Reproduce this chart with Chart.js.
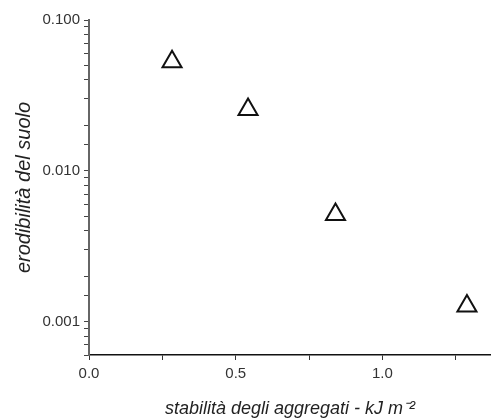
<!DOCTYPE html>
<html>
<head>
<meta charset="utf-8">
<script src="https://cdn.jsdelivr.net/npm/chart.js@4/dist/chart.umd.min.js"></script>
<style>
  html, body { margin: 0; padding: 0; background: #fff; }
  #box { width: 491px; height: 420px; }
</style>
</head>
<body>
<div id="box"><canvas id="grafica" width="491" height="420"></canvas></div>
<script>
// valori
const stabilita = [0.283, 0.542, 0.84, 1.288];
const erodibilita = [0.0529, 0.0255, 0.00513, 0.00127];
const xLabels = ['0.0', '0.5', '1.0'];
const yLabels = ['0.001', '0.010', '0.100'];

const isPow10 = v => Math.abs(Math.log10(v) - Math.round(Math.log10(v))) < 1e-6;

document.addEventListener('DOMContentLoaded', function () {
  const canvas = document.getElementById('grafica');
  if (!canvas || typeof Chart === 'undefined') {
    console.warn('Chart.js non caricato o canvas mancante');
    return;
  }
  const ctx = canvas.getContext('2d');
  const font = { family: '"Liberation Sans", Arial, sans-serif' };

  new Chart(ctx, {
    type: 'scatter',
    data: {
      datasets: [{
        data: stabilita.map((x, i) => ({ x: x, y: erodibilita[i] })),
        pointStyle: 'triangle',
        radius: 11,
        hoverRadius: 11,
        borderWidth: 2,
        borderColor: '#111',
        backgroundColor: 'rgba(255,255,255,0)'
      }]
    },
    options: {
      responsive: false,
      animation: false,
      events: [],
      layout: { autoPadding: false, padding: { top: 20, right: 0, left: 0, bottom: 0 } },
      plugins: { legend: { display: false }, tooltip: { enabled: false } },
      scales: {
        x: {
          type: 'linear',
          min: 0,
          max: 1.37,
          border: { color: '#111', width: 1.5 },
          grid: { drawOnChartArea: false, drawTicks: true, tickLength: 5, color: '#333', tickWidth: 1 },
          ticks: {
            stepSize: 0.25,
            includeBounds: false,
            padding: 5,
            color: '#333',
            maxRotation: 0,
            autoSkip: false,
            font: Object.assign({ size: 15 }, font),
            callback: function (v) {
              const i = xLabels.indexOf(Number(v).toFixed(1));
              return (Math.abs(v * 2 - Math.round(v * 2)) < 1e-6 && i >= 0) ? xLabels[i] : '';
            }
          },
          title: {
            display: true,
            text: 'stabilità degli aggregati - kJ m⁻²',
            color: '#222',
            padding: { top: 0, bottom: 0 },
            font: Object.assign({ size: 18, style: 'italic' }, font)
          },
          afterFit: function (s) { s.height = 65; }
        },
        y: {
          type: 'logarithmic',
          min: 0.0006,
          max: 0.1,
          border: { color: '#666', width: 2 },
          grid: { drawOnChartArea: false, drawTicks: true, tickLength: 5, color: '#444', tickWidth: 1 },
          ticks: {
            padding: 4,
            color: '#333',
            autoSkip: false,
            font: Object.assign({ size: 15 }, font),
            callback: function (v) {
              if (!isPow10(v)) return '';
              const s = Number(v).toFixed(3);
              return yLabels.indexOf(s) >= 0 ? s : '';
            }
          },
          title: {
            display: true,
            text: 'erodibilità del suolo',
            color: '#222',
            padding: { top: 12, bottom: 0 },
            font: Object.assign({ size: 20, style: 'italic' }, font)
          },
          afterFit: function (s) { s.width = 89; }
        }
      }
    }
  });
});
</script>
</body>
</html>
